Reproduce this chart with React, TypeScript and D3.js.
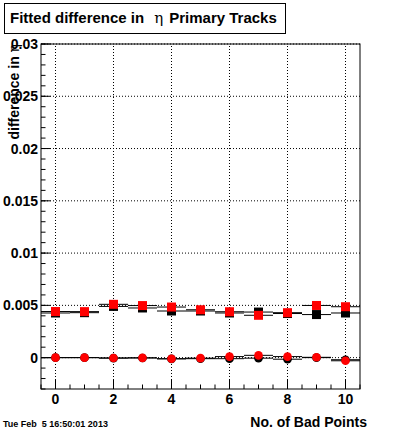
import React from "react";
import * as d3 from "d3";

const xValues = [0, 1, 2, 3, 4, 5, 6, 7, 8, 9, 10];
const blackSquares = [0.00427, 0.0043, 0.0049, 0.00475, 0.00446, 0.00446, 0.00427, 0.00436, 0.00422, 0.00412, 0.00427];
const redSquares = [0.00441, 0.0044, 0.0051, 0.00498, 0.00484, 0.00458, 0.00439, 0.00405, 0.0043, 0.00499, 0.00487];
const blackCircles = [0.0, 0.0, -0.00005, -0.00003, -0.00012, -0.0001, -0.0001, -0.00005, -0.00015, 0.0, -0.0002];
const redCircles = [0.0, 0.0, -0.00003, -0.00002, -0.0001, -0.00005, 0.0001, 0.00022, 0.0001, 0.00003, -0.0003];
const xTicks = [0, 2, 4, 6, 8, 10];
const yTicks = [0, 0.005, 0.01, 0.015, 0.02, 0.025, 0.03];
const yTickLabels = ["0", "0.005", "0.01", "0.015", "0.02", "0.025", "0.03"];

const W = 400, H = 433;
const L = 41, R = 360, T = 44, B = 389;
const FONT = "'Liberation Sans', Arial, Helvetica, sans-serif";

export default function App() {
  const x = d3.scaleLinear().domain([-0.5, 10.5]).range([L, R]);
  const y = d3.scaleLinear().domain([-0.003, 0.03]).range([B, T]);
  const xMinor = d3.range(-0.5, 10.51, 0.5);
  const yMinor = d3.range(-0.003, 0.03001, 0.001);

  const bars = (vals: number[], key: string) =>
    vals.map((v, i) => (
      <line key={key + i} x1={x(xValues[i] - 0.5)} x2={x(xValues[i] + 0.5)} y1={y(v)} y2={y(v)} stroke="#000" strokeWidth={1} />
    ));
  const squares = (vals: number[], color: string, key: string) =>
    vals.map((v, i) => (
      <rect key={key + i} x={x(xValues[i]) - 4.5} y={y(v) - 4.5} width={9} height={9} fill={color} />
    ));
  const circles = (vals: number[], color: string, key: string) =>
    vals.map((v, i) => <circle key={key + i} cx={x(xValues[i])} cy={y(v)} r={4.3} fill={color} />);

  return (
    <div>
      <style>{`body{margin:0;}`}</style>
      <svg width={W} height={H} style={{ display: "block", background: "#fff" }} fontFamily={FONT}>
        <rect x={0} y={0} width={W} height={H} fill="#fff" />
        {xTicks.map((t) => (
          <line key={"gx" + t} x1={x(t)} x2={x(t)} y1={B} y2={T} stroke="#000" strokeDasharray="1,2" strokeWidth={1} />
        ))}
        {yTicks.map((t) => (
          <line key={"gy" + t} x1={L} x2={R} y1={y(t)} y2={y(t)} stroke="#000" strokeDasharray="1,2" strokeWidth={1} />
        ))}
        {bars(blackSquares, "bs")}
        {bars(redSquares, "rs")}
        {bars(blackCircles, "bc")}
        {bars(redCircles, "rc")}
        {squares(blackSquares, "#000", "bsq")}
        {circles(blackCircles, "#000", "bci")}
        {squares(redSquares, "#ff0000", "rsq")}
        {circles(redCircles, "#ff0000", "rci")}
        <rect x={L} y={T} width={R - L} height={B - T} fill="none" stroke="#000" strokeWidth={1} />
        {yMinor.map((t, i) => (
          <line key={"ym" + i} x1={L} x2={L + 4.5} y1={y(t)} y2={y(t)} stroke="#000" />
        ))}
        {yTicks.map((t) => (
          <line key={"yM" + t} x1={L} x2={L + 9.5} y1={y(t)} y2={y(t)} stroke="#000" />
        ))}
        {yTicks.map((t, i) => (
          <text key={"yl" + t} x={38} y={y(t)} dy="0.36em" textAnchor="end" fontSize={14} fontWeight="bold">
            {yTickLabels[i]}
          </text>
        ))}
        {xMinor.map((t, i) => (
          <line key={"xm" + i} x1={x(t)} x2={x(t)} y1={B} y2={B - 4.5} stroke="#000" />
        ))}
        {xTicks.map((t) => (
          <line key={"xM" + t} x1={x(t)} x2={x(t)} y1={B} y2={B - 9.5} stroke="#000" />
        ))}
        {xTicks.map((t) => (
          <text key={"xl" + t} x={x(t)} y={404} textAnchor="middle" fontSize={14} fontWeight="bold">
            {String(t)}
          </text>
        ))}
        <text x={367} y={427} textAnchor="end" fontSize={14} fontWeight="bold">No. of Bad Points</text>
        <text transform={`translate(19,${T}) rotate(-90)`} textAnchor="end" fontSize={14} fontWeight="bold">
          difference in <tspan fontWeight="normal" fontFamily="'DejaVu Serif', serif">η</tspan>
        </text>
        <rect x={4.5} y={3.5} width={281} height={30} fill="#fff" stroke="#000" strokeWidth={1} />
        <text x={10} y={23} fontSize={15} fontWeight="bold">
          Fitted difference in
          <tspan fontWeight="normal" fontFamily="'DejaVu Serif', serif" dx={10}>η</tspan>
          <tspan dx={6}>Primary Tracks</tspan>
        </text>
        <text x={3} y={427} fontSize={9} fontWeight="bold" style={{ whiteSpace: "pre" }}>
          {"Tue Feb  5 16:50:01 2013"}
        </text>
      </svg>
    </div>
  );
}
